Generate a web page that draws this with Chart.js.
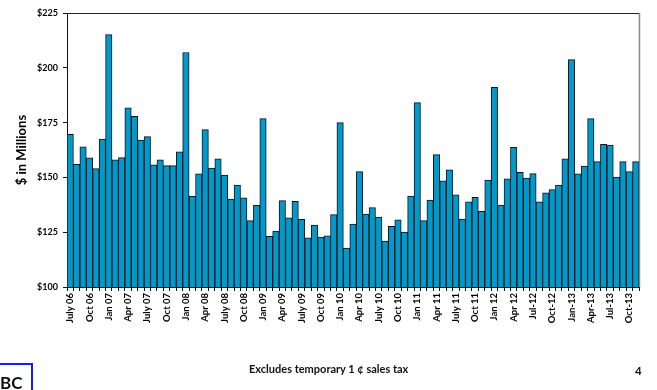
<!DOCTYPE html>
<html>
<head>
<meta charset="utf-8">
<script src="https://cdn.jsdelivr.net/npm/chart.js@4.4.0/dist/chart.umd.min.js"></script>
<style>
  html, body { margin: 0; padding: 0; background: #fff; }
  #wrap { position: relative; width: 657px; height: 390px; overflow: hidden; font-family: Lato, "Open Sans", sans-serif; }
  #c { position: absolute; left: 0; top: 0; }
  .foot { position: absolute; font-weight: bold; color: #111; white-space: nowrap; }
  #logo { position: absolute; left: -30px; top: 363px; width: 59px; height: 40px; border: 2px solid #1a1aff; }
  #logoText { position: absolute; left: 0px; top: 372px; font-size: 17px; font-weight: bold; color: #111; font-family: Lato, sans-serif; }
</style>
</head>
<body>
<div id="wrap">
  <canvas id="c" width="657" height="390"></canvas>
  <div id="logo"></div>
  <div id="logoText">BC</div>
  <div class="foot" style="left:249px; top:362px; font-size:11px;">Excludes temporary 1 ¢ sales tax</div>
  <div class="foot" style="left:635px; top:364px; font-size:11.5px;">4</div>
</div>
<script>
// Months from July 2006 to November 2013 (89 months)
const months = [
  "July 06","Aug 06","Sep 06","Oct 06","Nov 06","Dec 06",
  "Jan 07","Feb 07","Mar 07","Apr 07","May 07","Jun 07","July 07","Aug 07","Sep 07","Oct 07","Nov 07","Dec 07",
  "Jan 08","Feb 08","Mar 08","Apr 08","May 08","Jun 08","July 08","Aug 08","Sep 08","Oct 08","Nov 08","Dec 08",
  "Jan 09","Feb 09","Mar 09","Apr 09","May 09","Jun 09","July 09","Aug 09","Sep 09","Oct 09","Nov 09","Dec 09",
  "Jan 10","Feb 10","Mar 10","Apr 10","May 10","Jun 10","July 10","Aug 10","Sep 10","Oct 10","Nov 10","Dec 10",
  "Jan 11","Feb 11","Mar 11","Apr 11","May 11","Jun 11","July 11","Aug 11","Sep 11","Oct 11","Nov 11","Dec 11",
  "Jan 12","Feb 12","Mar 12","Apr 12","May 12","Jun 12","Jul-12","Aug-12","Sep-12","Oct-12","Nov-12","Dec-12",
  "Jan-13","Feb-13","Mar-13","Apr-13","May-13","Jun-13","Jul-13","Aug-13","Sep-13","Oct-13","Nov-13"
];
// Tick labels shown (every third month)
const shownLabels = [
  "July 06","Oct 06","Jan 07","Apr 07","July 07","Oct 07","Jan 08","Apr 08","July 08","Oct 08",
  "Jan 09","Apr 09","July 09","Oct 09","Jan 10","Apr 10","July 10","Oct 10","Jan 11","Apr 11",
  "July 11","Oct 11","Jan 12","Apr 12","Jul-12","Oct-12","Jan-13","Apr-13","Jul-13","Oct-13"
];
// Revenue, $ millions
const revenue = [
  169.6,156,164,158.9,154,167.5,
  215.1,158,159,181.7,177.9,167,168.6,155.7,158,155.4,155.4,161.7,
  207,141.4,151.6,171.8,154.3,158.5,151.1,140.1,146.5,140.7,130.3,137.3,
  176.8,123.1,125.5,139.4,131.5,139.1,130.9,122.4,128.3,122.8,123.4,133,
  175,117.8,128.7,152.6,133.3,136.2,131.9,121,127.7,130.6,125.1,141.5,
  184.1,130.3,139.7,160.4,148.4,153.4,142,131,138.8,140.9,134.5,148.8,
  191.1,137.4,149.4,163.7,152.3,149.7,151.7,138.9,143,144.4,146.5,158.5,
  203.7,151.6,155.2,176.8,157.2,165.1,164.8,150.2,157.2,152.6,157.2
];
const yTicks = [100,125,150,175,200,225];

const borderPlugin = {
  id: 'plotBorder',
  afterDraw(chart) {
    const {ctx, chartArea: a} = chart;
    ctx.save();
    ctx.lineWidth = 1;
    ctx.strokeStyle = '#222';
    ctx.beginPath(); ctx.moveTo(a.left, a.top + 0.5); ctx.lineTo(a.right, a.top + 0.5); ctx.stroke();
    ctx.strokeStyle = '#888';
    ctx.lineWidth = 1.5;
    ctx.beginPath(); ctx.moveTo(a.right + 0.5, a.top); ctx.lineTo(a.right + 0.5, a.bottom); ctx.stroke();
    ctx.restore();
  }
};

new Chart(document.getElementById('c'), {
  type: 'bar',
  data: {
    labels: months,
    datasets: [{
      data: revenue,
      backgroundColor: '#0099CC',
      borderColor: '#111',
      borderWidth: 1,
      barPercentage: 1,
      categoryPercentage: 1
    }]
  },
  options: {
    responsive: false,
    animation: false,
    events: [],
    layout: { padding: { top: 13, right: 18, left: 0, bottom: 0 } },
    plugins: { legend: { display: false }, tooltip: { enabled: false } },
    scales: {
      x: {
        offset: true,
        grid: { display: true, offset: true, drawOnChartArea: false, tickLength: 4, color: '#111', lineWidth: 1 },
        border: { display: true, color: '#111', width: 1 },
        ticks: {
          autoSkip: false, maxRotation: 90, minRotation: 90, padding: 2,
          color: '#000', font: { family: 'Lato', weight: 'bold', size: 9.5 },
          callback: function(v, i) { const l = months[i]; return shownLabels.includes(l) ? l : ''; }
        },
        afterFit(axis) { axis.height = 103; }
      },
      y: {
        min: 100, max: 225,
        afterBuildTicks(axis) { axis.ticks = yTicks.map(v => ({ value: v })); },
        grid: { display: true, drawOnChartArea: false, tickLength: 4, color: '#111' },
        border: { display: true, color: '#111', width: 1 },
        ticks: {
          padding: 5, color: '#000', font: { family: 'Lato', weight: 'bold', size: 9 },
          callback: v => '$' + v
        },
        title: {
          display: true, text: '$ in Millions', color: '#000',
          font: { family: 'Lato', weight: 'bold', size: 13 },
          padding: { top: 14, bottom: 0 }
        },
        afterFit(axis) { axis.width = 67; }
      }
    }
  },
  plugins: [borderPlugin]
});
</script>
</body>
</html>
